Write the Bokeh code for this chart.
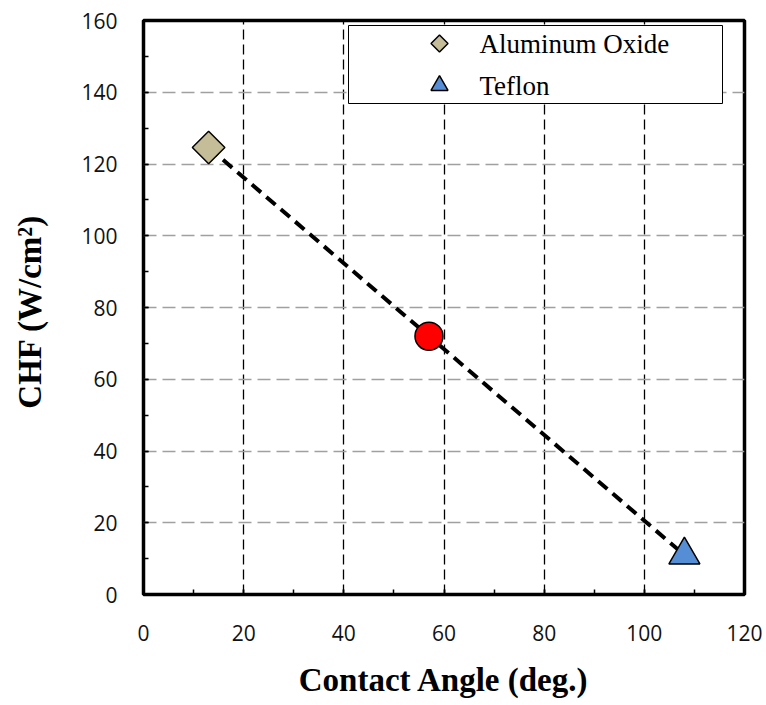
import numpy as np
from bokeh.plotting import figure
from bokeh.models import (Range1d, SingleIntervalTicker, BoxAnnotation)
from bokeh.core.properties import value
from bokeh.embed import file_html
from bokeh.resources import INLINE

# ---- data ----
materials = ["Aluminum Oxide", "Surface", "Teflon"]
contact_angle = [13, 57, 108]
chf = [124.6, 72.0, 11.0]

x_ticks_interval = 20
y_ticks_interval = 20

# linear trend through the three points
coef = np.polyfit(contact_angle, chf, 1)
trend_x = [contact_angle[0], contact_angle[-1]]
trend_y = list(np.polyval(coef, trend_x))

FRAME_W, FRAME_H = 601, 574

p = figure(width=766, height=705, output_backend="svg", toolbar_location=None,
           x_range=Range1d(0, 120), y_range=Range1d(0, 160),
           min_border_left=143, min_border_right=22, min_border_top=20,
           min_border_bottom=111)
# pixel-like ranges for positioning the legend inside the frame
p.extra_x_ranges = {"px": Range1d(0, FRAME_W)}
p.extra_y_ranges = {"px": Range1d(0, FRAME_H)}

p.background_fill_color = "white"
p.border_fill_color = "white"
p.outline_line_color = "black"
p.outline_line_width = 3.5

# axes
for ax, interval in ((p.xaxis[0], x_ticks_interval), (p.yaxis[0], y_ticks_interval)):
    ax.ticker = SingleIntervalTicker(interval=interval, num_minor_ticks=2)
    ax.axis_line_color = None
    ax.major_tick_in = 5
    ax.major_tick_out = 0
    ax.minor_tick_in = 5
    ax.minor_tick_out = 0
    ax.major_tick_line_width = 1.5
    ax.minor_tick_line_width = 1.5
    ax.major_tick_line_color = "black"
    ax.minor_tick_line_color = "black"
    ax.major_label_text_font = "Open Sans"
    ax.major_label_text_font_size = "21px"
    ax.major_label_text_color = "#111111"
    ax.axis_label_text_font = "Liberation Serif"
    ax.axis_label_text_font_style = "bold"
    ax.axis_label_text_font_size = "33px"
    ax.axis_label_text_color = "black"

p.xaxis.axis_label = "Contact Angle (deg.)"
p.yaxis.axis_label = "CHF  (W/cm²)"
p.xaxis.major_label_standoff = 30
p.xaxis.axis_label_standoff = 18
p.yaxis.major_label_standoff = 26
p.yaxis.axis_label_standoff = 30

# grids
p.xgrid.grid_line_color = "black"
p.xgrid.grid_line_width = 1.3
p.xgrid.grid_line_dash = "10 5"
p.ygrid.grid_line_color = "#a0a0a0"
p.ygrid.grid_line_width = 1.3
p.ygrid.grid_line_dash = "13 6"

# legend frame (under glyphs, over grid)
box = BoxAnnotation(left=205, right=579, top=569, bottom=491,
                    x_range_name="px", y_range_name="px", level="underlay",
                    fill_color="white", fill_alpha=1.0,
                    line_color="black", line_width=1, line_alpha=1.0)
p.add_layout(box)

# trend line
p.line(trend_x, trend_y, line_color="black", line_width=4, line_dash="12 7")

# points
p.scatter([contact_angle[0]], [chf[0]], marker="square", angle=np.pi / 4, size=23,
          fill_color="#c4bd97", line_color="black", line_width=1.5)
p.scatter([contact_angle[1]], [chf[1]], marker="circle", size=28,
          fill_color="#ff0000", line_color="black", line_width=1.5)
p.scatter([contact_angle[2]], [chf[2]], marker="triangle", size=31,
          fill_color="#558ed5", line_color="black", line_width=1.5)

# legend entries
p.scatter([296], [551], x_range_name="px", y_range_name="px",
          marker="square", angle=np.pi / 4, size=12,
          fill_color="#c4bd97", line_color="black", line_width=1.5)
p.scatter([296], [509], x_range_name="px", y_range_name="px",
          marker="triangle", size=17,
          fill_color="#558ed5", line_color="black", line_width=1.5)
p.text([336, 336], [551, 509], text=[materials[0], materials[2]],
       x_range_name="px", y_range_name="px",
       text_font=value("Liberation Serif"), text_font_size="27px",
       text_baseline="middle", text_align="left", text_color="black")

open("out.html", "w").write(file_html(p, INLINE))
